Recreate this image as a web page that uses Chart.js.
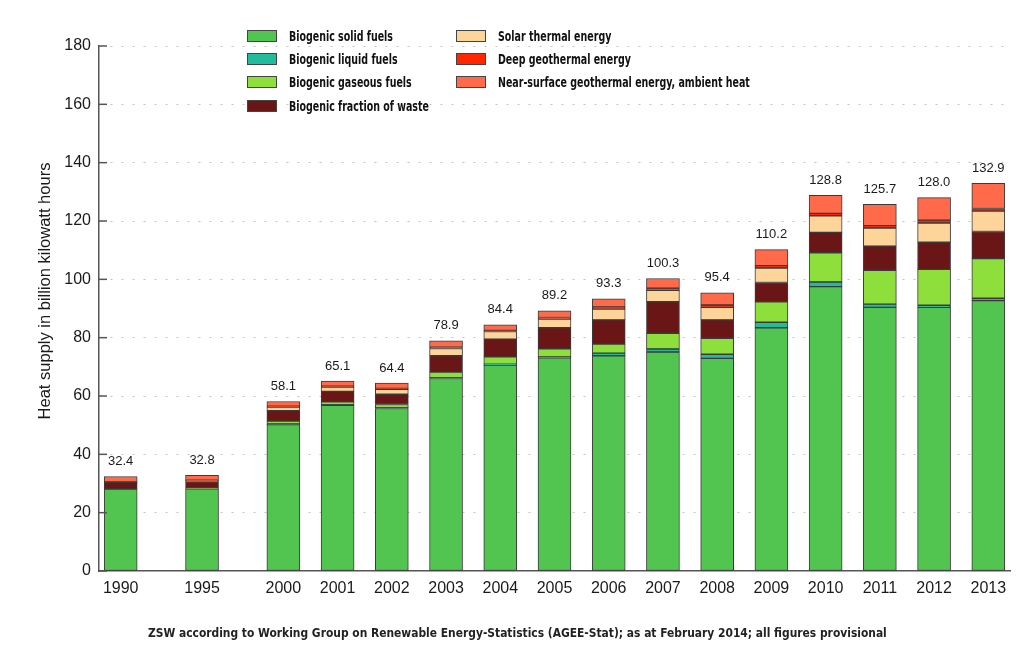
<!DOCTYPE html>
<html>
<head>
<meta charset="utf-8">
<script src="https://cdn.jsdelivr.net/npm/chart.js@4.4.1/dist/chart.umd.min.js"></script>
<style>
  body { margin: 0; background: #fff; }
  #wrap { position: relative; width: 1023px; height: 655px; }
  #legend {
    position: absolute; left: 247px; top: 24px;
    display: grid; grid-template-columns: 209px auto;
    grid-template-rows: repeat(4, 23.3px); grid-auto-flow: column;
    font: bold 13.5px 'DejaVu Sans Condensed', 'Liberation Sans', sans-serif; color: #111;
  }
  #legend .item { display: flex; align-items: center; white-space: nowrap; }
  #legend .box { flex: 0 0 auto; width: 28px; height: 10px; border: 1px solid #444; margin-right: 12px; }
  #legend .txt { display: inline-block; transform: scaleX(0.78); transform-origin: left center; }
  #footer {
    position: absolute; left: 148px; top: 625px;
    font: bold 13px 'DejaVu Sans Condensed', 'Liberation Sans', sans-serif; color: #222;
    white-space: nowrap; transform: scaleX(0.915); transform-origin: left center;
  }
</style>
</head>
<body>
<div id="wrap">
  <canvas id="chart"></canvas>
  <div id="legend"></div>
  <div id="footer">ZSW according to Working Group on Renewable Energy-Statistics (AGEE-Stat); as at February 2014; all figures provisional</div>
</div>
<script>
// datos (TWh)
const years = [1990, 1995, 2000, 2001, 2002, 2003, 2004, 2005, 2006, 2007, 2008, 2009, 2010, 2011, 2012, 2013];
const solidFuels = [28.1, 28.2, 50.2, 56.8, 55.7, 66.0, 70.6, 73.1, 73.8, 75.1, 72.9, 83.4, 97.5, 90.4, 90.4, 92.7];
const liquidFuels = [0, 0, 0.2, 0.2, 0.3, 0.3, 0.3, 0.3, 0.9, 1.0, 1.4, 1.9, 1.6, 1.1, 0.7, 0.8];
const gaseousFuels = [0, 0.1, 1.0, 1.0, 1.1, 1.9, 2.5, 2.8, 3.1, 5.4, 5.5, 7.0, 10.0, 11.6, 12.3, 13.6];
const wasteFraction = [2.3, 2.4, 3.6, 3.6, 3.5, 5.6, 6.1, 7.2, 8.3, 10.8, 6.3, 6.6, 7.0, 8.3, 9.3, 9.3];
const solarThermal = [0.1, 0.3, 1.2, 1.5, 1.7, 2.5, 2.6, 3.0, 3.7, 3.9, 4.3, 5.0, 5.7, 6.2, 6.6, 7.0];
const deepGeo = [0.1, 0.1, 0.3, 0.3, 0.3, 0.4, 0.4, 0.5, 0.7, 0.8, 0.8, 0.8, 0.8, 0.8, 1.0, 0.9];
const nearSurface = [1.8, 1.7, 1.6, 1.7, 1.8, 2.2, 1.9, 2.3, 2.8, 3.3, 4.2, 5.5, 6.2, 7.3, 7.7, 8.6];
const totals = ['32.4', '32.8', '58.1', '65.1', '64.4', '78.9', '84.4', '89.2', '93.3', '100.3', '95.4', '110.2', '128.8', '125.7', '128.0', '132.9'];
const yTicks = [0, 20, 40, 60, 80, 100, 120, 140, 160, 180];
const yTitle = 'Heat supply in billion kilowatt hours';

const FONT = "'Liberation Sans', Arial, sans-serif";

// posicion en el eje: los años 1990-2000 van mas juntos
function yearPos(y) {
  return y < 2000 ? (y - 1990) * 0.3 : y - 1997;
}
const positions = years.map(yearPos);

const createDataset = (label, values, color) => ({
  label: label,
  data: values.map((v, i) => ({ x: positions[i], y: v })),
  backgroundColor: color,
  borderColor: '#3a3a3a',
  borderWidth: 1,
  borderSkipped: false,
  barThickness: 33
});

const datasets = [
  createDataset('Biogenic solid fuels', solidFuels, '#52c450'),
  createDataset('Biogenic liquid fuels', liquidFuels, '#22bc9c'),
  createDataset('Biogenic gaseous fuels', gaseousFuels, '#8fdf3c'),
  createDataset('Biogenic fraction of waste', wasteFraction, '#6b1616'),
  createDataset('Solar thermal energy', solarThermal, '#fdd49a'),
  createDataset('Deep geothermal energy', deepGeo, '#ff2600'),
  createDataset('Near-surface geothermal energy, ambient heat', nearSurface, '#ff6a4a')
];

// totales encima de cada barra, marcas del eje y, titulo del eje y
const extras = {
  id: 'extras',
  afterDatasetsDraw(chart) {
    const ctx = chart.ctx;
    const top = chart.getDatasetMeta(datasets.length - 1).data;
    ctx.save();
    ctx.font = '13px ' + FONT;
    ctx.fillStyle = '#1a1a1a';
    ctx.textAlign = 'center';
    ctx.textBaseline = 'middle';
    top.forEach((bar, i) => ctx.fillText(totals[i], bar.x, bar.y - 15));

    const ys = chart.scales.y;
    ctx.strokeStyle = '#555';
    ctx.lineWidth = 1.5;
    yTicks.forEach(v => {
      const y = ys.getPixelForValue(v);
      ctx.beginPath();
      ctx.moveTo(chart.chartArea.left, y);
      ctx.lineTo(chart.chartArea.left + 8, y);
      ctx.stroke();
    });

    ctx.translate(45, ys.getPixelForValue(96));
    ctx.rotate(-Math.PI / 2);
    ctx.font = '16.5px ' + FONT;
    ctx.fillText(yTitle, 0, 0);
    ctx.restore();
  }
};

const chart = new Chart(document.getElementById('chart'), {
  type: 'bar',
  data: { datasets: datasets },
  plugins: [extras],
  options: {
    responsive: true,
    maintainAspectRatio: false,
    animation: false,
    layout: { padding: { top: 46, right: 13, left: 0, bottom: 0 } },
    plugins: { legend: { display: false }, tooltip: { enabled: false } },
    scales: {
      x: {
        type: 'linear',
        stacked: true,
        offset: false,
        min: -0.4,
        max: 16.4,
        afterBuildTicks: scale => { scale.ticks = positions.map(p => ({ value: p })); },
        afterFit: scale => { scale.height = 84; },
        grid: { display: false },
        border: { color: '#555', width: 1.5 },
        ticks: {
          autoSkip: false,
          maxRotation: 0,
          padding: 0,
          color: '#1a1a1a',
          font: { family: FONT, size: 16 },
          callback: value => {
            const i = positions.indexOf(value);
            return i >= 0 ? String(years[i]) : '';
          }
        }
      },
      y: {
        stacked: true,
        min: 0,
        max: 180,
        afterBuildTicks: scale => { scale.ticks = yTicks.map(v => ({ value: v })); },
        afterFit: scale => { scale.width = 99; },
        border: { color: '#555', width: 1.5, dash: [2, 9] },
        grid: {
          drawTicks: false,
          color: ctx => ctx.tick && ctx.tick.value === 0 ? 'rgba(0,0,0,0)' : '#c4c4c4',
          lineWidth: 1
        },
        ticks: {
          padding: 8,
          color: '#1a1a1a',
          font: { family: FONT, size: 16 }
        }
      }
    }
  }
});

// leyenda en dos columnas
const legendEl = document.getElementById('legend');
chart.data.datasets.forEach(ds => {
  const item = document.createElement('div');
  item.className = 'item';
  const box = document.createElement('span');
  box.className = 'box';
  box.style.background = ds.backgroundColor;
  const txt = document.createElement('span');
  txt.className = 'txt';
  txt.textContent = ds.label;
  item.appendChild(box);
  item.appendChild(txt);
  legendEl.appendChild(item);
});
</script>
</body>
</html>
